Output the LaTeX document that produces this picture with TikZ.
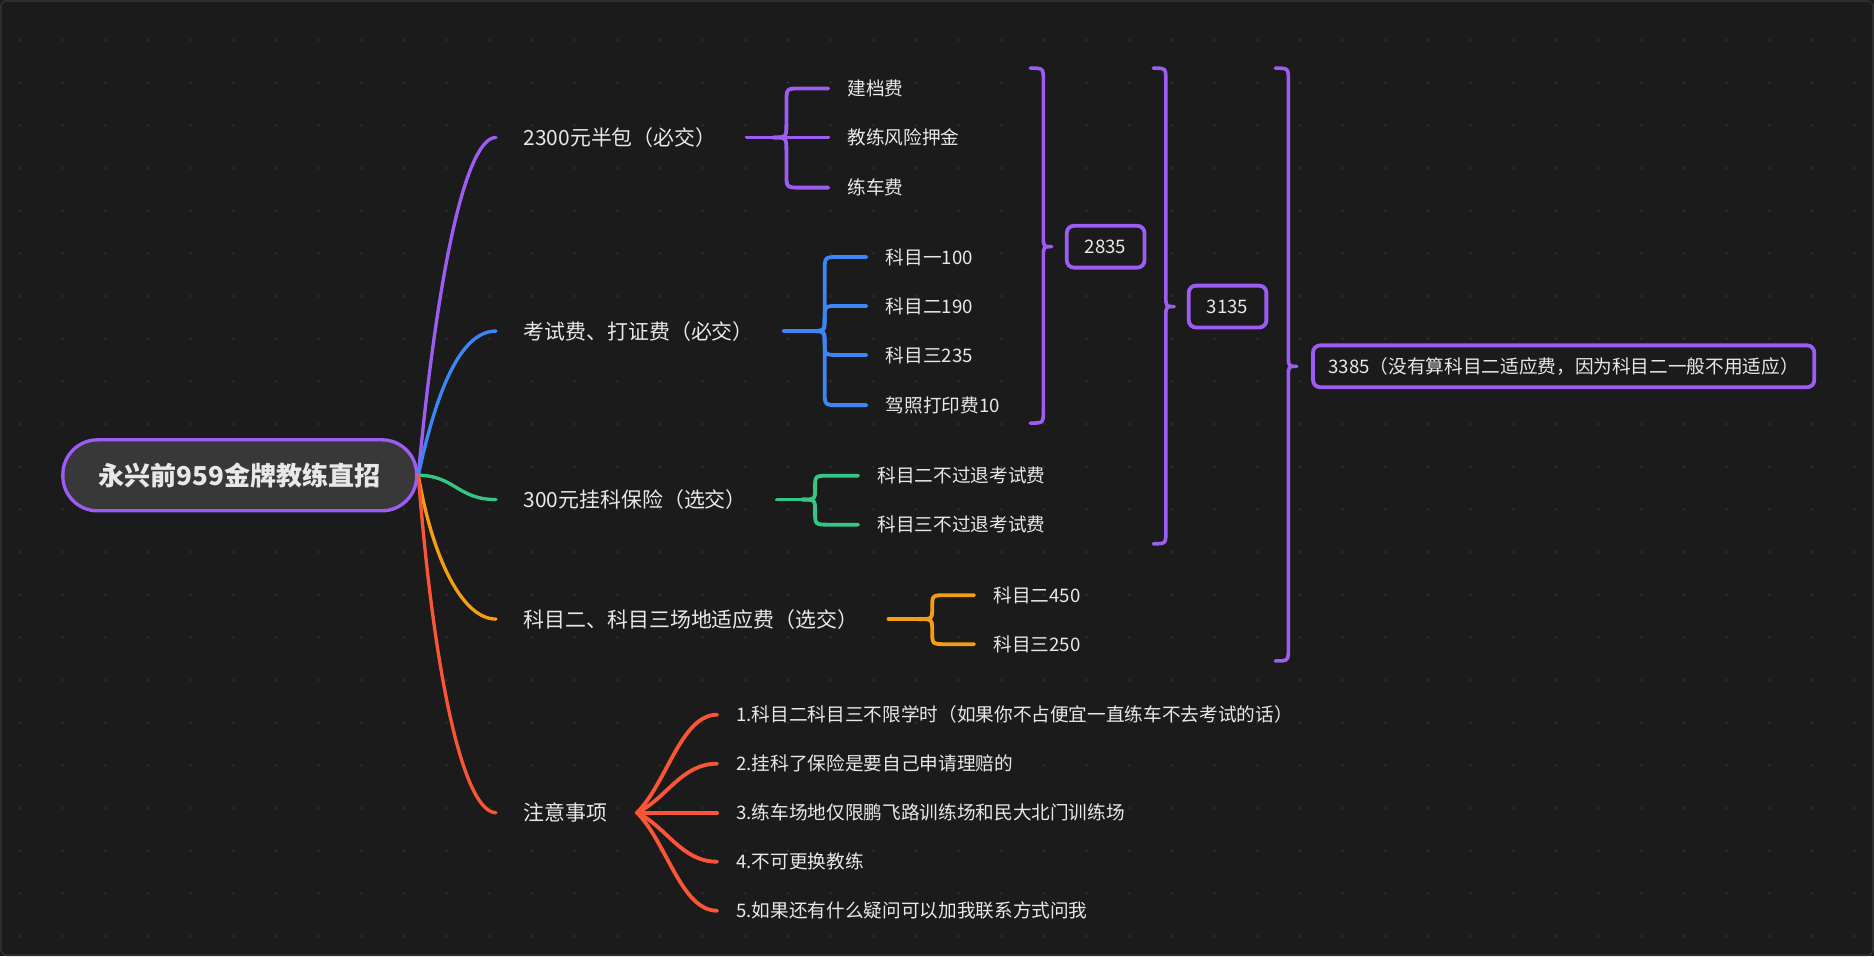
\documentclass[tikz,border=0pt]{standalone}
\usepackage{fontspec}
\newfontfamily\cjk{Noto Sans CJK SC}
\usetikzlibrary{calc}
\definecolor{bg}{HTML}{1B1B1B}
\definecolor{dotc}{HTML}{303030}
\definecolor{framec}{HTML}{2E2E2E}
\definecolor{pur}{HTML}{9D5CF2}
\definecolor{blu}{HTML}{3D86F5}
\definecolor{grn}{HTML}{36C585}
\definecolor{org}{HTML}{F59E14}
\definecolor{redc}{HTML}{FA5537}
\definecolor{txt}{HTML}{E8E8E8}
\definecolor{rootfill}{HTML}{383838}
\begin{document}
\begin{tikzpicture}[x=1pt,y=-1pt,
  mainlab/.style={font=\cjk\fontsize{17.5}{20}\selectfont, text=txt, anchor=west, inner xsep=23pt, inner ysep=2pt},
  sublab/.style={font=\cjk\fontsize{15.6}{18}\selectfont, text=txt, anchor=west, inner xsep=16pt, inner ysep=2pt},
  conn/.style={line width=2.8pt, line cap=round, line join=round},
  blink/.style={line width=3.2pt, line cap=round, line join=round},
  sumbox/.style={draw=pur, line width=3.2pt, rounded corners=6pt, fill=bg, text=txt,
    font=\cjk\fontsize{15.6}{18}\selectfont, anchor=west, inner xsep=13pt, minimum height=35pt, minimum width=65pt},
  sumbrace/.style={draw=pur, line width=3pt, line cap=round, line join=round},
  bracelink/.style={to path={
    let \p1=(\tikztostart), \p2=(\tikztotarget), \n1={sign(\y2-\y1)}, \n2={min(12,abs(\y2-\y1)/2)} in
    (\p1) .. controls (\x1+11pt,\y1) .. (\x1+11pt,\y1+\n1*\n2*1pt)
    -- (\x1+11pt,\y2-\n1*\n2*1pt) .. controls (\x1+11pt,\y2) .. (\x1+23pt,\y2) -- (\p2)}}
]
% background
\useasboundingbox (0,0) rectangle (1568,800);
\fill[bg] (0,0) rectangle (1568,800);
\draw[framec, line width=1.5pt, rounded corners=5pt] (0.75,0.75) rectangle (1567.25,799.25);
\foreach \i in {0,...,43}{
  \foreach \j in {0,...,21}{
    \fill[dotc] ({16.7+35.7*\i},{33.5+35.7*\j}) circle (1.1pt);
  }
}

% root
\node[draw=pur, line width=2.8pt, fill=rootfill, rounded corners=29pt,
      minimum width=296pt, minimum height=59.4pt, text=txt,
      font=\cjk\bfseries\fontsize{21.8}{26}\selectfont] (root) at (200.6,397.7) {永兴前959金牌教练直招};

% main labels
\node[mainlab] (m1) at (415,115) {2300元半包（必交）};
\node[mainlab] (m2) at (415,277) {考试费、打证费（必交）};
\node[mainlab] (m3) at (415,418) {300元挂科保险（选交）};
\node[mainlab] (m4) at (415,518) {科目二、科目三场地适应费（选交）};
\node[mainlab] (m5) at (415,680) {注意事项};

% main connectors
\draw[conn, pur] (root.east) .. controls +(17,-180) and +(-24,0) .. (m1.west);
\draw[conn, blu] (root.east) .. controls +(15,-70) and +(-30,0) .. (m2.west);
\draw[conn, grn] (root.east) .. controls +(30,0) and +(-32,0) .. (m3.west);
\draw[conn, org] (root.east) .. controls +(12,70) and +(-28,0) .. (m4.west);
\draw[conn, redc] (root.east) .. controls +(15,190) and +(-24,0) .. (m5.west);

% group 1
\node[sublab] (a1) at (693,74) {建档费};
\node[sublab] (a2) at (693,115) {教练风险押金};
\node[sublab] (a3) at (693,157) {练车费};
\coordinate (j1) at (647,115);
\draw[blink, pur] ([xshift=2pt]m1.east) -- (j1) -- (a2.west);
\draw[blink, pur] (j1) to[bracelink] (a1.west);
\draw[blink, pur] (j1) to[bracelink] (a3.west);

% group 2
\node[sublab] (b1) at (725,215) {科目一100};
\node[sublab] (b2) at (725,256) {科目二190};
\node[sublab] (b3) at (725,297) {科目三235};
\node[sublab] (b4) at (725,339) {驾照打印费10};
\coordinate (j2) at (679,277);
\draw[blink, blu] ([xshift=2pt]m2.east) -- (j2);
\draw[blink, blu] (j2) to[bracelink] (b1.west);
\draw[blink, blu] (j2) to[bracelink] (b2.west);
\draw[blink, blu] (j2) to[bracelink] (b3.west);
\draw[blink, blu] (j2) to[bracelink] (b4.west);

% group 3
\node[sublab] (c1) at (718,398) {科目二不过退考试费};
\node[sublab] (c2) at (718,439) {科目三不过退考试费};
\coordinate (j3) at (671,418);
\draw[blink, grn] ([xshift=2pt]m3.east) -- (j3);
\draw[blink, grn] (j3) to[bracelink] (c1.west);
\draw[blink, grn] (j3) to[bracelink] (c2.west);

% group 4
\node[sublab] (d1) at (815,498) {科目二450};
\node[sublab] (d2) at (815,539) {科目三250};
\coordinate (j4) at (769,518);
\draw[blink, org] ([xshift=2pt]m4.east) -- (j4);
\draw[blink, org] (j4) to[bracelink] (d1.west);
\draw[blink, org] (j4) to[bracelink] (d2.west);

% group 5
\node[sublab] (e1) at (600,598) {1.科目二科目三不限学时（如果你不占便宜一直练车不去考试的话）};
\node[sublab] (e2) at (600,639) {2.挂科了保险是要自己申请理赔的};
\node[sublab] (e3) at (600,680) {3.练车场地仅限鹏飞路训练场和民大北门训练场};
\node[sublab] (e4) at (600,721) {4.不可更换教练};
\node[sublab] (e5) at (600,762) {5.如果还有什么疑问可以加我联系方式问我};
\coordinate (j5) at (533,680);
\draw[blink, redc] (j5) .. controls +(25,-25) and +(-30,0) .. (e1.west);
\draw[blink, redc] (j5) .. controls +(25,-12) and +(-30,0) .. (e2.west);
\draw[blink, redc] (j5) -- (e3.west);
\draw[blink, redc] (j5) .. controls +(25,12) and +(-30,0) .. (e4.west);
\draw[blink, redc] (j5) .. controls +(25,25) and +(-30,0) .. (e5.west);

% summary boxes
\node[sumbox] (s1) at (891,206.4) {2835};
\node[sumbox] (s2) at (993,256.5) {3135};
\node[sumbox] (s3) at (1097,306.5) {3385（没有算科目二适应费，因为科目二一般不用适应）};

% summary braces
\draw[sumbrace] (862,57) .. controls (873,57) .. (873,68) -- (873,198)
  .. controls (873,206.4) .. (880,206.4) .. controls (873,206.4) .. (873,215)
  -- (873,343) .. controls (873,354) .. (862,354);
\draw[sumbrace] (965,57) .. controls (975.5,57) .. (975.5,68) -- (975.5,248)
  .. controls (975.5,256.5) .. (982.5,256.5) .. controls (975.5,256.5) .. (975.5,265)
  -- (975.5,444) .. controls (975.5,455) .. (965,455);
\draw[sumbrace] (1067,57) .. controls (1078,57) .. (1078,68) -- (1078,298)
  .. controls (1078,306.5) .. (1085,306.5) .. controls (1078,306.5) .. (1078,315)
  -- (1078,542) .. controls (1078,553) .. (1067,553);
\end{tikzpicture}
\end{document}
